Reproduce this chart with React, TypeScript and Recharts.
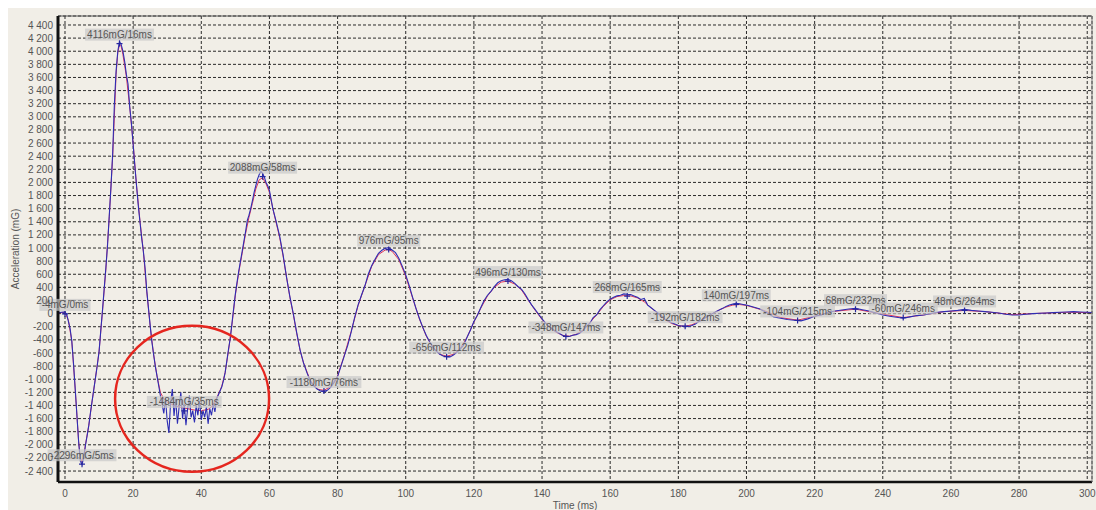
import React from "react";
import {
  ComposedChart,
  Line,
  XAxis,
  YAxis,
  CartesianGrid,
  ReferenceDot,
} from "recharts";

// sampling grids (ms)
const range = (start: number, step: number, n: number) =>
  Array.from({ length: n }, (_, i) => start + i * step);

// raw accelerometer trace, -2..60 ms every 0.5 ms
const blueEarly = [
  10, 15, 20, 25, 20, -10, -120, -230, -420, -760,
  -1150, -1550, -1950, -2250, -2300, -2200, -2010, -1860, -1700, -1500,
  -1320, -1140, -960, -780, -580, -260, 50, 380, 700, 1050,
  1500, 1940, 2450, 3200, 3700, 4000, 4150, 4100, 4000, 3850,
  3650, 3500, 3150, 2900, 2580, 2250, 1950, 1650, 1400, 1150,
  950, 700, 350, 80, -180, -430, -620, -800, -950, -1100,
  -1250, -1380, -1520, -1290, -1640, -1820, -1350, -1150, -1560, -1300,
  -1680, -1420, -1200, -1600, -1380, -1700, -1450, -1250, -1580, -1480,
  -1660, -1400, -1550, -1330, -1620, -1480, -1580, -1420, -1680, -1450,
  -1550, -1380, -1500, -1300, -1240, -1180, -1120, -1020, -900, -720,
  -540, -380, -150, 80, 300, 480, 650, 800, 950, 1100,
  1250, 1420, 1500, 1600, 1720, 1850, 1950, 2050, 2120, 2170,
  2140, 2080, 2000, 1950, 1880,
];

// 61..200 ms every 1 ms
const blueMid = [
  1600, 1400, 1180, 900, 560, 260, 0, -290, -555, -750,
  -900, -1030, -1100, -1150, -1180, -1190, -1170, -1120, -1050, -960,
  -800, -640, -480, -280, -60, 130, 280, 420, 600, 730,
  830, 920, 965, 995, 1005, 970, 930, 840, 720, 590,
  430, 250, 80, -70, -210, -330, -430, -510, -575, -620,
  -645, -656, -660, -630, -590, -540, -480, -360, -250, -120,
  -30, 90, 200, 280, 340, 410, 470, 500, 515, 522,
  500, 460, 410, 370, 300, 210, 130, 60, -10, -80,
  -140, -190, -230, -270, -300, -330, -352, -350, -330, -320,
  -300, -260, -200, -150, -60, -20, 60, 120, 180, 220,
  250, 270, 280, 300, 294, 290, 270, 250, 215, 230,
  130, 90, 50, 10, -30, -80, -110, -140, -160, -180,
  -190, -200, -195, -180, -160, -120, -100, -60, -30, 0,
  30, 55, 80, 110, 130, 145, 157, 150, 140, 130,
];

// 202..302 ms every 2 ms
const blueLate = [
  100, 70, 10, -50, -70, -90, -100, -110, -80, -40,
  -20, 20, 40, 55, 70, 80, 60, 40, 10, -20,
  -40, -55, -70, -50, -30, -20, 0, 20, 30, 40,
  50, 65, 50, 40, 30, 20, 10, -10, -20, -20,
  -10, 0, 5, 10, 15, 20, 25, 30, 25, 20,
  15,
];

// filtered trace
const redT = [
  -2, 0, 1, 2, 3, 4, 4.5, 5, 5.5, 6,
  7, 8, 9, 10, 11, 12, 13, 14, 15, 15.5,
  16, 16.5, 17, 18, 19, 20, 21, 22, 23, 24,
  25, 26, 27, 28, 29, 30, 32, 34, 36, 38,
  40, 42, 43, 44, 45, 46, 47, 48, 49, 50,
  51, 52, 53, 54, 55, 56, 57, 58, 59, 60,
  61, 62, 63, 64, 65, 66, 67, 68, 69, 70,
  72, 74, 76, 78, 80, 82, 84, 86, 88, 90,
  92, 94, 95, 96, 98, 100, 102, 104, 106, 108,
  110, 112, 114, 116, 118, 120, 122, 124, 126, 128,
  130, 132, 134, 136, 138, 140, 142, 144, 146, 148,
  150, 152, 154, 156, 158, 160, 162, 164, 166, 168,
  170, 172, 174, 176, 178, 180, 182, 184, 186, 188,
  190, 192, 194, 196, 198, 200, 205, 210, 215, 220,
  225, 232, 238, 246, 252, 258, 264, 270, 278, 286,
  294, 302,
];
const redV = [
  10, 20, -100, -420, -1150, -1950, -2200, -2260, -2180, -2000,
  -1700, -1320, -960, -580, 30, 680, 1480, 2400, 3650, 3980,
  4100, 4070, 3950, 3620, 3150, 2600, 1950, 1420, 950, 340,
  -190, -620, -950, -1200, -1300, -1350, -1400, -1430, -1450, -1470,
  -1480, -1460, -1420, -1340, -1230, -1110, -900, -560, -170, 280,
  630, 920, 1220, 1470, 1680, 1900, 2040, 2070, 1980, 1850,
  1600, 1380, 1160, 880, 560, 250, -10, -300, -560, -750,
  -1020, -1150, -1170, -1110, -950, -630, -270, 120, 420, 720,
  900, 970, 975, 950, 820, 570, 240, -80, -340, -520,
  -620, -650, -620, -530, -360, -130, 80, 270, 400, 480,
  496, 450, 360, 200, 50, -90, -200, -280, -330, -345,
  -315, -250, -140, -20, 110, 210, 260, 275, 270, 240,
  180, 90, 0, -90, -150, -185, -192, -170, -120, -60,
  0, 55, 100, 130, 138, 125, 50, -60, -100, -40,
  30, 68, 10, -60, -20, 30, 48, 30, -15, 5,
  20, 15,
];

// annotated extremes
const peakT = [0, 5, 16, 35, 58, 76, 95, 112, 130, 147, 165, 182, 197, 215, 232, 246, 264];
const peakV = [-4, -2296, 4116, -1484, 2088, -1180, 976, -656, 496, -348, 268, -192, 140, -104, 68, -60, 48];

// highlighted noisy zone
const zoneT = 37.3;
const zoneV = -1299;

const xTicks = range(0, 20, 16);
const xMinorTicks = range(0, 5, 61);
const yTicks = range(-2400, 200, 35);
const xDomain = [-2.05, 301.4];
const yDomain = [-2567, 4537];

const blueT = [...range(-2, 0.5, 125), ...range(61, 1, 140), ...range(202, 2, 51)];
const blueV = [...blueEarly, ...blueMid, ...blueLate];
const blueData = blueT.map((t, i) => ({ t, v: blueV[i] }));
const redData = redT.map((t, i) => ({ t, v: redV[i] }));

const FONT = "'Liberation Sans', Arial, sans-serif";
const fmt = (v: number) => String(v).replace(/\B(?=(\d{3})+(?!\d))/g, " ");

function PeakMark(props: any) {
  const { cx, cy, text } = props;
  const w = text.length * 5.9 + 4;
  return (
    <g>
      <rect x={cx - w / 2} y={cy - 15} width={w} height={12} fill="#c9c9c9" fillOpacity={0.7} />
      <text x={cx} y={cy - 9} textAnchor="middle" dominantBaseline="central" fontSize={10} fontFamily={FONT} fill="#555">
        {text}
      </text>
      <path d={`M${cx - 3},${cy}H${cx + 3}M${cx},${cy - 3}V${cy + 3}`} stroke="#26269e" strokeWidth={1.2} />
    </g>
  );
}

function YLabel(props: any) {
  const { x, y, height } = props.viewBox;
  const cx = x + 7;
  const cy = y + height / 2;
  return (
    <text x={cx} y={cy} transform={`rotate(-90 ${cx} ${cy})`} textAnchor="middle" dominantBaseline="central" fontSize={10} fontFamily={FONT} fill="#555">
      Acceleration (mG)
    </text>
  );
}

export default function App() {
  return (
    <div style={{ position: "absolute", left: 8, top: 8, width: 1088, height: 502, background: "#f1eee7" }}>
      <ComposedChart width={1088} height={502} margin={{ top: 8, right: 4, bottom: 0, left: 0 }}>
        <CartesianGrid stroke="#2a2a2a" strokeDasharray="3 2" />
        <XAxis
          dataKey="t"
          type="number"
          domain={xDomain}
          ticks={xTicks}
          interval={0}
          allowDataOverflow
          height={28}
          axisLine={{ stroke: "#111", strokeWidth: 2.5 }}
          tickLine={false}
          tick={{ fontSize: 10, fill: "#555", fontFamily: FONT }}
          label={{ value: "Time (ms)", position: "insideBottom", offset: 1, fontSize: 10, fill: "#555", fontFamily: FONT }}
        />
        <XAxis
          xAxisId="minor"
          dataKey="t"
          type="number"
          domain={xDomain}
          ticks={xMinorTicks}
          interval={0}
          allowDataOverflow
          mirror
          axisLine={false}
          tickSize={3}
          tickLine={{ stroke: "#444" }}
          tick={false}
        />
        <XAxis
          xAxisId="top"
          orientation="top"
          type="number"
          domain={xDomain}
          mirror
          tick={false}
          tickLine={false}
          axisLine={{ stroke: "#555" }}
        />
        <YAxis
          type="number"
          domain={yDomain}
          ticks={yTicks}
          interval={0}
          allowDataOverflow
          width={50}
          tickSize={3}
          tickMargin={2}
          tickLine={false}
          tickFormatter={fmt}
          axisLine={{ stroke: "#111", strokeWidth: 3 }}
          tick={{ fontSize: 10, fill: "#555", fontFamily: FONT }}
          label={<YLabel />}
        />
        <YAxis
          yAxisId="minor"
          type="number"
          domain={yDomain}
          ticks={yTicks}
          interval={0}
          allowDataOverflow
          mirror
          axisLine={false}
          tickSize={3}
          tickLine={{ stroke: "#444" }}
          tick={false}
        />
        <YAxis
          yAxisId="right"
          orientation="right"
          type="number"
          domain={yDomain}
          mirror
          tick={false}
          tickLine={false}
          axisLine={{ stroke: "#777" }}
        />
        <Line data={redData} dataKey="v" type="linear" stroke="#e0355a" strokeWidth={1} dot={false} isAnimationActive={false} />
        <Line data={blueData} dataKey="v" type="linear" stroke="#2e2eb4" strokeWidth={1.1} dot={false} isAnimationActive={false} />
        {peakT.map((t, i) => (
          <ReferenceDot
            key={t}
            x={t}
            y={peakV[i]}
            r={3}
            shape={(p: any) => <PeakMark {...p} text={`${peakV[i]}mG/${t}ms`} />}
          />
        ))}
        <ReferenceDot
          x={zoneT}
          y={zoneV}
          r={75}
          shape={(p: any) => <ellipse cx={p.cx} cy={p.cy} rx={77} ry={73} fill="none" stroke="#e5261f" strokeWidth={2.5} />}
        />
      </ComposedChart>
    </div>
  );
}
